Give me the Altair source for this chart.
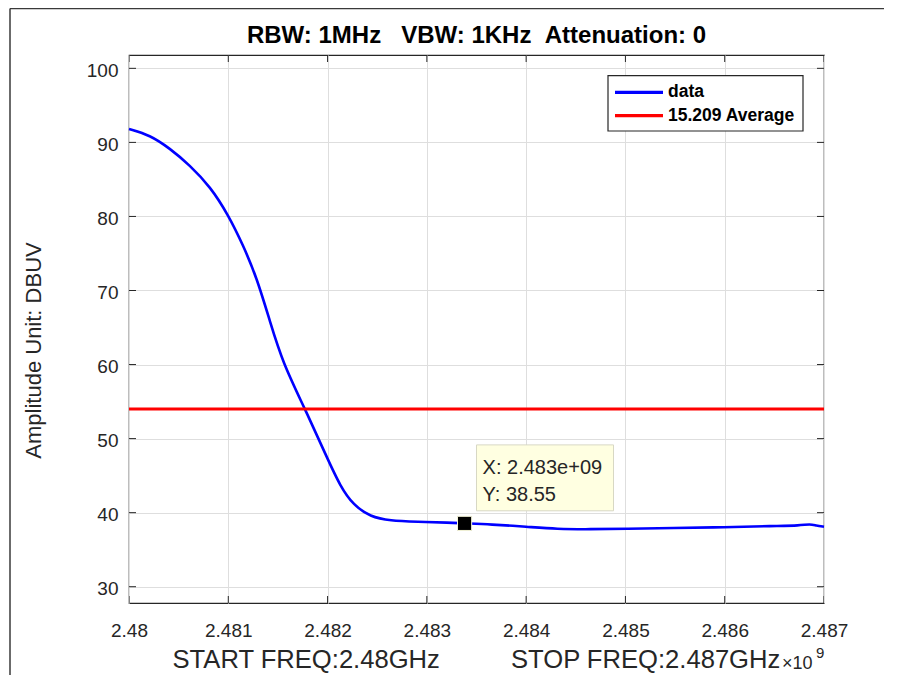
import altair as alt
import pandas as pd

# ---------------- data ----------------
freq_ghz = [2.48000, 2.48021, 2.48041, 2.48061, 2.48082, 2.48100, 2.48115, 2.48129,
            2.48142, 2.48155, 2.48177, 2.48199, 2.48213, 2.48226, 2.48243, 2.48263,
            2.48290, 2.48323, 2.48338, 2.48364, 2.48401, 2.48431, 2.48464, 2.48501,
            2.48548, 2.48599, 2.48649, 2.48676, 2.48686, 2.48692, 2.48700]
amp_dbuv = [91.8, 91.0, 89.2, 86.95, 84.0, 80.2, 76.1, 71.6,
            65.8, 60.2, 54.09, 47.56, 43.5, 41.03, 39.45, 38.91,
            38.78, 38.64, 38.55, 38.42, 38.1, 37.79, 37.75, 37.83,
            37.93, 38.02, 38.2, 38.26, 38.47, 38.26, 38.1]
avg_limit = [54.0]
x_ticks = [2.480, 2.481, 2.482, 2.483, 2.484, 2.485, 2.486, 2.487]
y_ticks = [30, 40, 50, 60, 70, 80, 90, 100]
x_domain = [2.48, 2.487]
y_domain = [27.8, 101.8]
tip_x = [2.48338]
tip_y = [38.55]
tip_lines = ["X: 2.483e+09", "Y: 38.55"]
legend_names = ["data", "15.209 Average"]
legend_colors = ["#0000ff", "#ff0000"]
title_text = "RBW: 1MHz\u00a0\u00a0\u00a0VBW: 1KHz\u00a0\u00a0Attenuation: 0"
xlabel_text = "START FREQ:2.48GHz" + "\u00a0" * 10 + "STOP FREQ:2.487GHz"
ylabel_text = "Amplitude Unit: DBUV"

FONT = "Liberation Sans"
AX = "#262626"
W, H = 695, 548

df = pd.DataFrame({"f": freq_ghz, "a": amp_dbuv})
xs = alt.Scale(domain=x_domain, nice=False, zero=False)
ys = alt.Scale(domain=y_domain, nice=False, zero=False)

x_axis = alt.Axis(values=x_ticks, format="~g", grid=True, gridColor="#dedede", gridWidth=1,
                  ticks=False, tickSize=0, domain=False, labelFont=FONT, labelFontSize=19,
                  labelColor=AX, labelBaseline="alphabetic", labelPadding=33, labelFlush=False,
                  labelOverlap=False, labelBound=False,
                  title=xlabel_text, titleFont=FONT, titleFontSize=25.6, titleFontWeight="normal",
                  titleColor=AX, titleX=43, titleY=64, titleAlign="left", titleBaseline="alphabetic")
y_axis = alt.Axis(values=y_ticks, grid=True, gridColor="#dedede", gridWidth=1,
                  ticks=False, tickSize=0, domain=False, labelFont=FONT, labelFontSize=19,
                  labelColor=AX, labelPadding=11, labelBaseline="middle", labelOffset=2,
                  labelOverlap=False, labelFlush=False,
                  title=ylabel_text, titleFont=FONT, titleFontSize=22, titleFontWeight="normal",
                  titleColor=AX, titleX=-89, titleY=295, titleAngle=270, titleAlign="center",
                  titleBaseline="alphabetic")

line = alt.Chart(df).mark_line(color="#0000ff", strokeWidth=2.6, interpolate="basis").encode(
    x=alt.X("f:Q", scale=xs, axis=x_axis),
    y=alt.Y("a:Q", scale=ys, axis=y_axis),
)

rule = alt.Chart(pd.DataFrame({"f": [x_domain[0]], "a": avg_limit})).mark_rule(
    color="#ff0000", strokeWidth=3).encode(
    y=alt.Y("a:Q", scale=ys)
)

# inside tick marks on all four sides (clipped so only the inner half shows)
yt = pd.DataFrame({"f": [x_domain[0]] * len(y_ticks) + [x_domain[1]] * len(y_ticks),
                   "a": y_ticks * 2})
xt = pd.DataFrame({"f": x_ticks * 2,
                   "a": [y_domain[0]] * len(x_ticks) + [y_domain[1]] * len(x_ticks)})
yticks = alt.Chart(yt).mark_tick(orient="horizontal", size=14, thickness=1, color=AX,
                                 clip=True, opacity=1).encode(
    x=alt.X("f:Q", scale=xs), y=alt.Y("a:Q", scale=ys))
xticks = alt.Chart(xt).mark_tick(orient="vertical", size=14, thickness=1, color=AX,
                                 clip=True, opacity=1).encode(
    x=alt.X("f:Q", scale=xs), y=alt.Y("a:Q", scale=ys))

# data tip
tip_df = pd.DataFrame({"f": tip_x, "a": tip_y})
box_df = pd.DataFrame({"f": [tip_x[0] + 0.00012], "f2": [tip_x[0] + 0.0015],
                       "a": [tip_y[0] + 1.7], "a2": [tip_y[0] + 10.6]})
tip_box = alt.Chart(box_df).mark_rect(fill="#ffffe1", stroke="#d8d8c4", strokeWidth=1).encode(
    x=alt.X("f:Q", scale=xs), x2="f2:Q",
    y=alt.Y("a:Q", scale=ys), y2="a2:Q")
tip_texts = []
for i, t in enumerate(tip_lines):
    tip_texts.append(
        alt.Chart(tip_df).mark_text(align="left", baseline="middle", dx=18, dy=-55 + 27 * i,
                                    font=FONT, fontSize=20, color=AX).encode(
            x=alt.X("f:Q", scale=xs), y=alt.Y("a:Q", scale=ys),
            text=alt.value(t)))
tip_marker = alt.Chart(tip_df).mark_square(size=200, filled=True, color="#000000",
                                           stroke="#f4f4d8", strokeWidth=1, opacity=1).encode(
    x=alt.X("f:Q", scale=xs), y=alt.Y("a:Q", scale=ys))

# legend box
one = pd.DataFrame({"z": [0]})
leg_box = alt.Chart(one).mark_rect(fill="white", stroke=AX, strokeWidth=1.2).encode(
    x=alt.value(479), x2=alt.value(674), y=alt.value(20.7), y2=alt.value(76))
leg_layers = [leg_box]
for i, (n, c) in enumerate(zip(legend_names, legend_colors)):
    yy = 37.3 + 23.4 * i
    leg_layers.append(alt.Chart(one).mark_rule(color=c, strokeWidth=3.2).encode(
        x=alt.value(486), x2=alt.value(534), y=alt.value(yy)))
    leg_layers.append(alt.Chart(one).mark_text(align="left", baseline="middle", font=FONT,
                                               fontSize=17.5, fontWeight="bold", color="#000000").encode(
        x=alt.value(539), y=alt.value(yy), text=alt.value(n)))

# chart title (as text, so the figure frame does not push it out of view)
title = alt.Chart(one).mark_text(align="center", baseline="alphabetic", font=FONT, fontSize=24,
                                 fontWeight="bold", color="#000000").encode(
    x=alt.value(W / 2), y=alt.value(-12), text=alt.value(title_text))

# exponent label and figure frame
expo = [
    alt.Chart(one).mark_text(align="left", baseline="alphabetic", font=FONT, fontSize=18,
                             color=AX).encode(x=alt.value(653), y=alt.value(614), text=alt.value("\u00d710")),
    alt.Chart(one).mark_text(align="left", baseline="alphabetic", font=FONT, fontSize=15,
                             color=AX).encode(x=alt.value(687), y=alt.value(603), text=alt.value("9")),
]
frame = [
    alt.Chart(one).mark_rule(color="#3a3a3a", strokeWidth=1.5).encode(
        x=alt.value(-119), y=alt.value(-46.5), y2=alt.value(630)),
    alt.Chart(one).mark_rule(color="#3a3a3a", strokeWidth=1.5).encode(
        x=alt.value(-119), x2=alt.value(760), y=alt.value(-46.5)),
]

chart = alt.layer(line, rule, xticks, yticks, tip_box, *tip_texts, tip_marker,
                  *leg_layers, title, *expo, *frame).properties(
    width=W, height=H,
    autosize=alt.AutoSizeParams(type="none"),
    padding={"left": 121, "top": 47, "right": 60, "bottom": 72},
    background="white",
).configure_view(stroke=AX, strokeWidth=1.2)

chart.save("out.html", embed_options={"renderer": "svg", "actions": False})
